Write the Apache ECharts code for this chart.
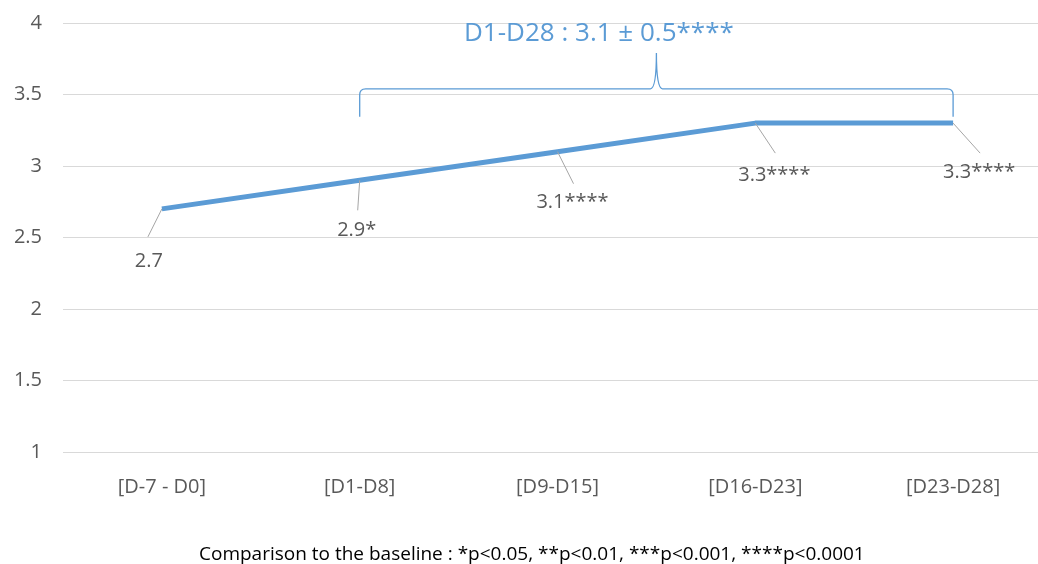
<!DOCTYPE html>
<html>
<head>
<meta charset="utf-8">
<script src="https://cdn.jsdelivr.net/npm/echarts@6/dist/echarts.min.js"></script>
<style>
  html, body { margin: 0; padding: 0; background: #ffffff; }
  #chart { width: 1038px; height: 564px; }
</style>
</head>
<body>
<div id="chart"></div>
<script>
// Periods, mean scores and significance markers versus baseline
const categories = ['[D-7 - D0]', '[D1-D8]', '[D9-D15]', '[D16-D23]', '[D23-D28]'];
const scores = [2.7, 2.9, 3.1, 3.3, 3.3];
const significance = ['', '*', '****', '****', '****'];
const yTicks = [1, 1.5, 2, 2.5, 3, 3.5, 4];
const summaryText = 'D1-D28 : 3.1 \u00b1 0.5****';
const footnoteText = 'Comparison to the baseline : *p<0.05, **p<0.01, ***p<0.001, ****p<0.0001';
const braceRange = [1, 4]; // category indices spanned by the summary brace

const BLUE = '#5b9bd5';
const GREY_TEXT = '#595959';
const FONT = '"Open Sans", "Noto Sans", sans-serif';

// leader line end and label centre, offset in px from each point
const leaders = [
  { lx: -14, ly: 28, tx: -13, ty: 52 },
  { lx: -2,  ly: 30, tx: -3,  ty: 50 },
  { lx: 16,  ly: 32, tx: 15,  ty: 51 },
  { lx: 20,  ly: 30, tx: 19,  ty: 52 },
  { lx: 27,  ly: 30, tx: 26,  ty: 49 }
];

const chart = echarts.init(document.getElementById('chart'), null, { renderer: 'canvas' });

const option = {
  animation: false,
  backgroundColor: '#ffffff',
  grid: {
    left: 63, top: 23, width: 989, height: 429,
    containLabel: false,
    outerBoundsMode: 'none'
  },
  title: [
    {
      text: summaryText,
      left: 459, top: 16,
      textStyle: { color: BLUE, fontSize: 26, fontWeight: 'normal', fontFamily: FONT }
    },
    {
      text: footnoteText,
      left: 194, top: 540,
      textStyle: { color: '#000000', fontSize: 19, fontWeight: 'normal', fontFamily: FONT }
    }
  ],
  xAxis: {
    type: 'category',
    data: categories,
    boundaryGap: true,
    axisLine: { show: false },
    axisTick: { show: false },
    axisLabel: { color: GREY_TEXT, fontSize: 20, fontFamily: FONT, margin: 25 }
  },
  yAxis: {
    type: 'value',
    min: yTicks[0],
    max: yTicks[yTicks.length - 1],
    interval: 0.5,
    axisLine: { show: false },
    axisTick: { show: false },
    axisLabel: { color: GREY_TEXT, fontSize: 20, fontFamily: FONT, margin: 21 },
    splitLine: { lineStyle: { color: '#d9d9d9', width: 1 } }
  },
  series: [
    {
      type: 'line',
      data: scores,
      symbol: 'none',
      lineStyle: { color: BLUE, width: 5 },
      z: 3
    },
    {
      // value labels with grey leader lines
      type: 'custom',
      data: scores.map((v, i) => [i, v]),
      z: 4,
      renderItem: function (params, api) {
        const i = params.dataIndex;
        const p = api.coord([api.value(0), api.value(1)]);
        const o = leaders[i];
        const label = String(scores[i]) + significance[i];
        return {
          type: 'group',
          children: [
            {
              type: 'line',
              shape: { x1: p[0], y1: p[1], x2: p[0] + o.lx, y2: p[1] + o.ly },
              style: { stroke: '#a6a6a6', lineWidth: 1 }
            },
            {
              type: 'text',
              x: p[0] + o.tx, y: p[1] + o.ty,
              style: {
                text: label, fill: GREY_TEXT, font: '20px ' + FONT,
                align: 'center', verticalAlign: 'middle'
              }
            }
          ]
        };
      }
    },
    {
      // curly brace over the D1-D28 periods
      type: 'custom',
      data: [[braceRange[0], braceRange[1]]],
      z: 2,
      renderItem: function (params, api) {
        const a = api.coord([api.value(0), 3.54]);
        const b = api.coord([api.value(1), 3.54]);
        const top = a[1];
        const foot = api.coord([0, 3.345])[1];
        const peak = api.coord([0, 3.79])[1];
        const xl = a[0], xr = b[0], xm = (xl + xr) / 2;
        const r = 6;
        const path =
          'M' + xl + ' ' + foot +
          ' L' + xl + ' ' + (top + r) +
          ' Q' + xl + ' ' + top + ' ' + (xl + r) + ' ' + top +
          ' L' + (xm - r) + ' ' + top +
          ' Q' + xm + ' ' + top + ' ' + xm + ' ' + peak +
          ' Q' + xm + ' ' + top + ' ' + (xm + r) + ' ' + top +
          ' L' + (xr - r) + ' ' + top +
          ' Q' + xr + ' ' + top + ' ' + xr + ' ' + (top + r) +
          ' L' + xr + ' ' + foot;
        return {
          type: 'path',
          shape: { pathData: path },
          style: { stroke: BLUE, lineWidth: 1.3, fill: null }
        };
      }
    }
  ]
};

chart.setOption(option);
</script>
</body>
</html>
